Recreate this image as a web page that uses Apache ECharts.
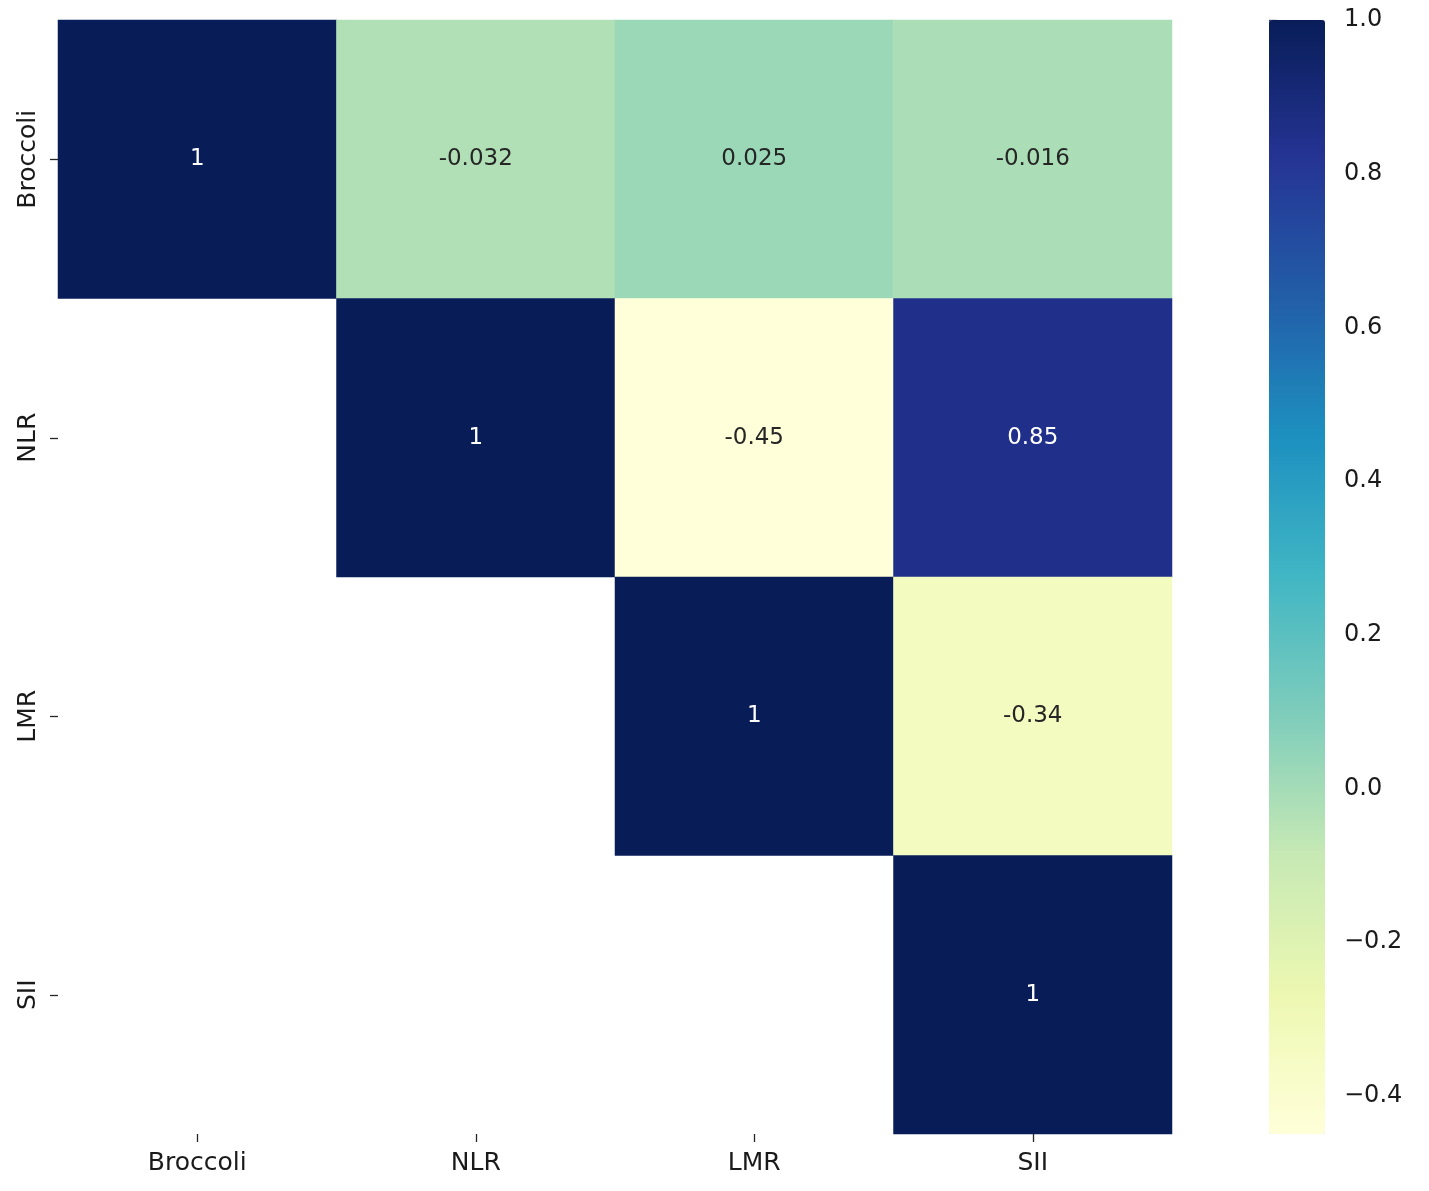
<!DOCTYPE html>
<html>
<head>
<meta charset="utf-8">
<script src="https://cdn.jsdelivr.net/npm/echarts@6/dist/echarts.min.js"></script>
<style>html,body{margin:0;padding:0;background:#fff}#c{width:1429px;height:1191px}</style>
</head>
<body>
<div id="c"></div>
<script>
const categories = ['Broccoli', 'NLR', 'LMR', 'SII'];
// rows of the upper-triangular correlation matrix (null = masked)
const rowBroccoli = [1, -0.032, 0.025, -0.016];
const rowNLR = [null, 1, -0.45, 0.85];
const rowLMR = [null, null, 1, -0.34];
const rowSII = [null, null, null, 1];
const colorbarTicks = [-0.4, -0.2, 0.0, 0.2, 0.4, 0.6, 0.8, 1.0];
const scaleMin = -0.45, scaleMax = 1.0;
const ylgnbu = ['#ffffd9', '#edf8b1', '#c7e9b4', '#7fcdbb', '#41b6c4', '#1d91c0', '#225ea8', '#253494', '#081d58'];

const rows = [rowBroccoli, rowNLR, rowLMR, rowSII];
const data = [];
rows.forEach((row, yi) => {
  row.forEach((v, xi) => {
    if (v === null) return;
    data.push({
      value: [xi, yi, v],
      label: { color: v > 0.6 ? '#ffffff' : '#262626' }
    });
  });
});

const FONT = 'DejaVu Sans';
const chart = echarts.init(document.getElementById('c'), null, { renderer: 'canvas' });
chart.setOption({
  backgroundColor: '#ffffff',
  animation: false,
  textStyle: { fontFamily: FONT },
  grid: [
    { left: 58, top: 20, width: 1114, height: 1114 },
    { left: 1269, top: 20, width: 56, height: 1114 }
  ],
  xAxis: [
    {
      type: 'category', data: categories, gridIndex: 0, position: 'bottom',
      axisLine: { show: false },
      axisTick: { show: true, alignWithLabel: true, length: 8, lineStyle: { color: '#262626', width: 1.3 } },
      axisLabel: { fontFamily: FONT, fontSize: 25, color: '#1a1a1a', margin: 17 },
      splitLine: { show: false }
    },
    { type: 'value', gridIndex: 1, show: false, min: 0, max: 1 }
  ],
  yAxis: [
    {
      type: 'category', data: categories, gridIndex: 0, inverse: true,
      axisLine: { show: false },
      axisTick: { show: true, alignWithLabel: true, length: 8, lineStyle: { color: '#262626', width: 1.3 } },
      axisLabel: { fontFamily: FONT, fontSize: 25, color: '#1a1a1a', rotate: 90, margin: 17 },
      splitLine: { show: false }
    },
    {
      type: 'value', gridIndex: 1, position: 'right', min: scaleMin, max: scaleMax,
      axisLine: { show: false },
      splitLine: { show: false },
      axisTick: { show: true, length: 8, customValues: colorbarTicks, lineStyle: { color: '#262626', width: 1.3 } },
      axisLabel: {
        fontFamily: FONT, fontSize: 24, color: '#1a1a1a', margin: 19,
        customValues: colorbarTicks,
        formatter: v => (v < 0 ? '\u2212' : '') + Math.abs(v).toFixed(1)
      }
    }
  ],
  visualMap: {
    type: 'continuous', min: scaleMin, max: scaleMax, seriesIndex: 0,
    orient: 'vertical', left: 1269, top: 20, padding: 0,
    itemWidth: 56, itemHeight: 1114, calculable: false, hoverLink: false,
    text: null, showLabel: false,
    inRange: { color: ylgnbu }
  },
  series: [
    {
      type: 'heatmap', xAxisIndex: 0, yAxisIndex: 0, data: data,
      itemStyle: { borderWidth: 0 },
      label: { show: true, fontFamily: FONT, fontSize: 23, formatter: p => String(p.value[2]) },
      emphasis: { disabled: true }
    },
    { type: 'scatter', xAxisIndex: 1, yAxisIndex: 1, data: [], silent: true }
  ]
});
</script>
</body>
</html>
